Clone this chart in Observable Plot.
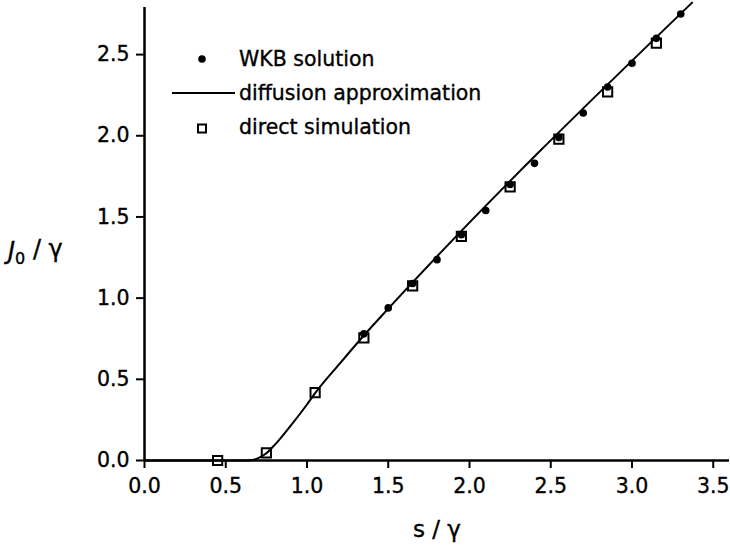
<!DOCTYPE html>
<html>
<head>
<meta charset="utf-8">
<script src="https://cdn.jsdelivr.net/npm/d3@7"></script>
<script src="https://cdn.jsdelivr.net/npm/@observablehq/plot@0.6"></script>
<style>
  html, body { margin: 0; padding: 0; background: #fff; }
  #chart { width: 730px; height: 545px; }
  #chart svg text { stroke: #000; stroke-width: 0.35px; }
</style>
</head>
<body>
<div id="chart"></div>
<script>
// WKB solution (filled dots)
const wkbS = [1.35, 1.50, 1.65, 1.80, 1.95, 2.10, 2.25, 2.40, 2.55, 2.70, 2.85, 3.00, 3.15, 3.30];
const wkbJ = [0.78, 0.94, 1.09, 1.237, 1.39, 1.54, 1.70, 1.83, 1.99, 2.14, 2.30, 2.447, 2.60, 2.75];

// direct simulation (open squares)
const simS = [0.45, 0.75, 1.05, 1.35, 1.65, 1.95, 2.25, 2.55, 2.85, 3.15];
const simJ = [0.00, 0.047, 0.418, 0.755, 1.076, 1.38, 1.685, 1.98, 2.27, 2.57];

// diffusion approximation (solid line)
const diffS = [0, 0.55, 0.62, 0.66, 0.70, 0.75, 0.80, 0.90, 1.00, 1.05, 1.20, 1.35, 1.50, 3.37];
const diffJ = [0, 0, 0, 0.003, 0.015, 0.045, 0.095, 0.215, 0.345, 0.415, 0.595, 0.77, 0.935, 2.82];

const xTicks = [0, 0.5, 1.0, 1.5, 2.0, 2.5, 3.0, 3.5];
const yTicks = [0, 0.5, 1.0, 1.5, 2.0, 2.5];

const legendLabels = ["WKB solution", "diffusion approximation", "direct simulation"];
const xLabel = "s / γ";

const wkb = wkbS.map((s, i) => ({s, J: wkbJ[i]}));
const sim = simS.map((s, i) => ({s, J: simJ[i]}));
const diff = diffS.map((s, i) => ({s, J: diffJ[i]}));

const FONT = "DejaVu Sans, sans-serif";

const plot = Plot.plot({
  width: 730,
  height: 545,
  marginLeft: 144,
  marginRight: 1,
  marginTop: 7,
  marginBottom: 85,
  style: {fontFamily: FONT, fontSize: "20.5px", color: "#000", background: "#fff", overflow: "visible"},
  x: {domain: [0, 3.6]},
  y: {domain: [0, 2.79]},
  marks: [
    Plot.axisX({ticks: xTicks, tickSize: 8, tickPadding: 10, tickFormat: d3.format(".1f"), strokeWidth: 2, label: null, fontSize: 20.5}),
    Plot.axisY({ticks: yTicks, tickSize: 8, tickPadding: 7, tickFormat: d3.format(".1f"), strokeWidth: 2, label: null, fontSize: 20.5}),
    Plot.ruleX([0], {stroke: "#000", strokeWidth: 2.5}),
    Plot.ruleY([0], {stroke: "#000", strokeWidth: 2.5}),
    Plot.line(diff, {x: "s", y: "J", stroke: "#000", strokeWidth: 2, curve: "monotone-x", clip: false}),
    Plot.dot(wkb, {x: "s", y: "J", r: 3.8, fill: "#000", stroke: "none"}),
    Plot.dot(sim, {x: "s", y: "J", symbol: "square", r: 5.2, fill: "none", stroke: "#000", strokeWidth: 2})
  ]
});

document.getElementById("chart").appendChild(plot);

// Legend and axis titles added to the SVG
const svg = d3.select(plot);
const lg = svg.append("g").attr("font-family", FONT).attr("font-size", 20.5).attr("fill", "#000").attr("text-anchor", "start");
lg.append("circle").attr("cx", 202).attr("cy", 59).attr("r", 3.8).attr("fill", "#000");
lg.append("line").attr("x1", 172).attr("x2", 235).attr("y1", 93).attr("y2", 93).attr("stroke", "#000").attr("stroke-width", 2);
lg.append("rect").attr("x", 198).attr("y", 124.5).attr("width", 8).attr("height", 8).attr("fill", "none").attr("stroke", "#000").attr("stroke-width", 2);
const ly = [59, 93, 127];
legendLabels.forEach((t, i) => {
  lg.append("text").attr("x", 239).attr("y", ly[i]).attr("dy", "0.35em").attr("text-anchor", "start").text(t);
});

// x-axis title
svg.append("text")
  .attr("x", 437).attr("y", 529).attr("dy", "0.35em")
  .attr("text-anchor", "middle")
  .attr("font-family", FONT).attr("font-size", 23)
  .text(xLabel);

// y-axis title: J0 / γ
const yt = svg.append("text")
  .attr("x", 8).attr("y", 251).attr("dy", "0.35em")
  .attr("text-anchor", "start")
  .attr("font-family", FONT).attr("font-size", 24);
yt.append("tspan").attr("font-style", "italic").text("J");
yt.append("tspan").attr("font-size", 16).attr("dy", "0.3em").text("0");
yt.append("tspan").attr("dy", "-0.3em").text(" / γ");
</script>
</body>
</html>
